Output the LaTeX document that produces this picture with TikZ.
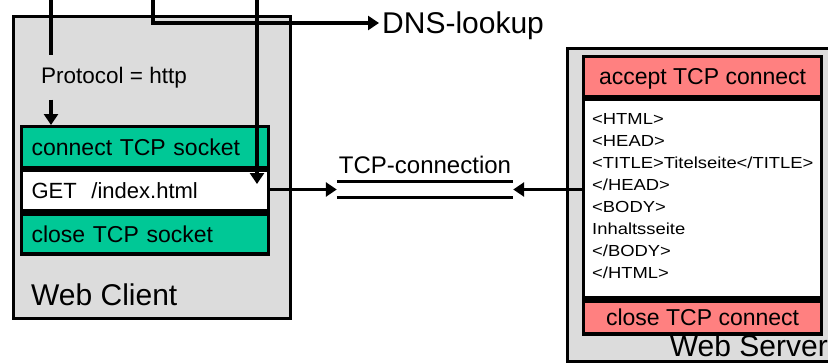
\documentclass[tikz,border=0pt]{standalone}
\usepackage{fontspec}
\setmainfont{Liberation Sans}
\newfontfamily\htmlfont[FakeStretch=1.15]{Liberation Sans}
\usetikzlibrary{arrows.meta,calc}
\definecolor{boxgray}{HTML}{DCDCDC}
\definecolor{tcpgreen}{HTML}{00C896}
\definecolor{tcppink}{HTML}{FF8080}
\tikzset{
  outerbox/.style={draw, fill=boxgray, line width=3pt, inner sep=0pt},
  gbox/.style={draw, line width=3.2pt, fill=tcpgreen, anchor=north west, text width=227pt, inner xsep=10pt, inner ysep=0pt, align=left, text depth=0pt, font=\fontsize{23}{27}\selectfont},
  pbox/.style={draw, line width=3.2pt, fill=tcppink, anchor=north west, minimum width=238pt, inner sep=0pt, text depth=0pt, font=\fontsize{23}{27}\selectfont},
  htmltext/.style={anchor=base west, inner sep=0pt, font=\htmlfont\fontsize{16}{22}\selectfont},
  conn/.style={line width=3.3pt},
  arr/.style={conn, -{Triangle[length=11pt,width=14pt]}},
  biglabel/.style={inner sep=0pt, font=\fontsize{30}{34}\selectfont}
}
\begin{document}
\begin{tikzpicture}[x=1pt,y=-1pt]
\clip (0,0) rectangle (828,364);
% outer boxes
\node[outerbox, anchor=north west, minimum width=277pt, minimum height=302pt] (client) at (12,15) {};
\node[outerbox, anchor=north west, minimum width=272pt, minimum height=313pt] (server) at (566,47) {};
% client stack
\node[gbox, minimum height=41pt] (connect) at (20,125) {connect TCP socket};
\node[gbox, fill=white, minimum height=40pt, font=\fontsize{22}{26}\selectfont] (GET) at (connect.south west) {GET \ /index.html};
\node[gbox, minimum height=40pt] (close) at (GET.south west) {close TCP socket};
\node[biglabel, anchor=base west] (clientlabel) at (31,305) {Web Client};
% server stack
\node[pbox, minimum height=40pt] (accept) at (582,55) {accept TCP connect};
\node[pbox, fill=white, minimum height=198pt] (body) at (accept.south west) {};
\node[pbox, minimum height=33pt] (sclose) at (body.south west) {close TCP connect};
\node[biglabel, anchor=base east] (serverlabel) at (828,356) {Web Server};
% html text
\foreach \t [count=\i from 0] in {{<HTML>},{<HEAD>},{<TITLE>Titelseite</TITLE>},{</HEAD>},{<BODY>},{Inhaltsseite},{</BODY>},{</HTML>}}{
  \node[htmltext] (html\i) at (592,124+22*\i) {\t};
}
% protocol
\node[inner sep=0pt, minimum height=44pt, font=\fontsize{22.5}{26}\selectfont] (proto) at (114,77.5) {Protocol = http};
% DNS
\node[biglabel, inner xsep=3pt, text depth=0pt, anchor=west] (dns) at (379,23) {DNS-lookup};
% TCP connection
\node[minimum width=176pt, minimum height=15pt, inner sep=0pt] (tcpc) at (425,189.5) {};
\node[inner sep=0pt, anchor=base, font=\fontsize{24}{28}\selectfont] (tcplabel) at (425,173) {TCP-connection};
\draw[conn] (tcpc.north west) -- (tcpc.north east);
\draw[conn] (tcpc.south west) -- (tcpc.south east);
% top lines
\coordinate (t1) at (51,-3);
\coordinate (t2) at (153,-3);
\coordinate (t3) at (257,-3);
\coordinate (gtip) at (257,184);
\draw[conn] (t1) -- (t1 |- proto.north);
\draw[arr] (t1 |- proto.south) -- (t1 |- connect.north);
\draw[arr] (t2) |- (dns.west);
\draw[arr] (t3) -- (gtip);
% connections
\draw[arr] (GET.east |- tcpc.west) -- (tcpc.west);
\draw[arr] (body.west |- tcpc.east) -- (tcpc.east);
\end{tikzpicture}
\end{document}
